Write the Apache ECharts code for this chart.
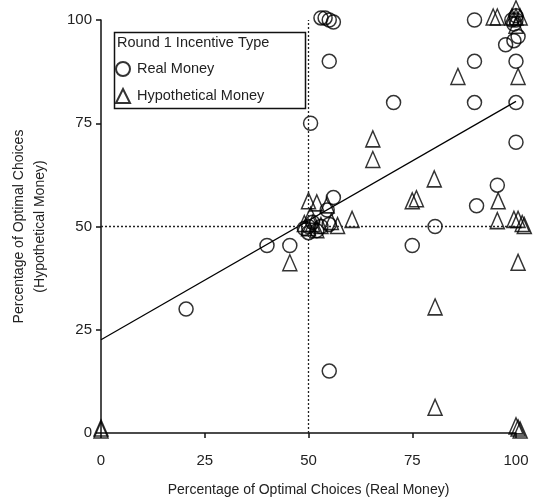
<!DOCTYPE html>
<html>
<head>
<meta charset="utf-8">
<script src="https://cdn.jsdelivr.net/npm/echarts@6/dist/echarts.min.js"></script>
<style>html,body{margin:0;padding:0;background:#fff}#c{width:533px;height:502px}</style>
</head>
<body>
<div id="c"></div>
<script>
// Real Money (circles)
const realX = [20.5, 40, 45.5, 50.5, 53, 54, 55, 56, 55, 55, 54.5, 56, 50, 51, 52, 50, 53, 49, 55, 70.5, 75, 80.5, 90, 90, 90, 90.5, 95.5, 99, 100, 100, 99.5, 97.5, 99.5, 100.5, 100, 100, 100];
const realY = [30, 45.4, 45.4, 75, 100.5, 100.5, 100, 99.5, 90, 15, 54, 57, 50, 51, 49, 48.5, 50, 49.5, 50.5, 80, 45.4, 50, 100, 90, 80, 55, 60, 100, 100, 101, 99, 94, 95, 96, 90, 80, 70.4];
// Hypothetical Money (triangles)
const hypoX = [0, 0, 45.5, 50, 52, 54.5, 49, 50, 51, 52, 53, 55.5, 57, 60.5, 50.5, 65.5, 65.5, 75, 76, 80.3, 80.5, 80.5, 86, 94.5, 95.5, 99, 100, 100, 100, 101, 95.7, 95.5, 99.5, 100.5, 101.5, 102, 100.5, 100.5, 100, 100.5, 101];
const hypoY = [0, 0.5, 40.5, 55.5, 55, 54.5, 50, 49, 50, 48.5, 49.5, 50.5, 49.5, 51, 52, 70.5, 65.5, 55.5, 56, 60.8, 29.8, 5.5, 85.6, 100, 100, 100, 100, 102, 98, 100, 55.5, 50.7, 51, 51, 50, 49.5, 85.6, 40.6, 1, 0.5, 0];
// Regression line endpoints
const fitX = [0, 100];
const fitY = [22.6, 80.3];
const xTicks = [0, 25, 50, 75, 100];
const yTicks = [0, 25, 50, 75, 100];
const legendTitle = 'Round 1 Incentive Type';
const seriesNames = ['Real Money', 'Hypothetical Money'];

const font = 'Liberation Sans, Arial, sans-serif';
const chart = echarts.init(document.getElementById('c'), null, {renderer: 'canvas'});
const zip = (a, b) => a.map((v, i) => [v, b[i]]);
const hollow = {color: 'rgba(255,255,255,0)', borderColor: '#000', borderWidth: 1.5};

chart.setOption({
  animation: false,
  backgroundColor: '#fff',
  grid: {left: 101, right: 17, top: 20, bottom: 66},
  xAxis: {
    type: 'value', min: 0, max: 100, interval: 25,
    name: 'Percentage of Optimal Choices (Real Money)',
    nameLocation: 'middle', nameGap: 50,
    nameTextStyle: {fontFamily: font, fontSize: 14, color: '#222'},
    axisLine: {show: true, lineStyle: {color: '#111', width: 1.5}},
    axisTick: {show: true, length: 5, lineStyle: {color: '#111', width: 1.5}},
    axisLabel: {fontFamily: font, fontSize: 15, color: '#222', margin: 20,
      formatter: v => xTicks.includes(v) ? String(v) : ''},
    splitLine: {show: false}
  },
  yAxis: {
    type: 'value', min: 0, max: 100, interval: 25,
    name: 'Percentage of Optimal Choices\n(Hypothetical Money)',
    nameLocation: 'middle', nameGap: 50,
    nameTextStyle: {fontFamily: font, fontSize: 14, color: '#222', lineHeight: 21},
    axisLine: {show: true, lineStyle: {color: '#111', width: 1.5}},
    axisTick: {show: true, length: 5, lineStyle: {color: '#111', width: 1.5}},
    axisLabel: {fontFamily: font, fontSize: 15, color: '#222', margin: 9,
      formatter: v => yTicks.includes(v) ? String(v) : ''},
    splitLine: {show: false}
  },
  legend: {
    orient: 'vertical', left: 115, top: 61, itemGap: 11,
    itemWidth: 14, itemHeight: 14, padding: 0,
    textStyle: {fontFamily: font, fontSize: 14.5, color: '#222', padding: [0, 0, 0, 2]},
    data: [
      {name: seriesNames[0], icon: 'circle'},
      {name: seriesNames[1], icon: 'triangle'}
    ]
  },
  graphic: [
    {type: 'rect', left: 112, top: 30, shape: {width: 191, height: 76},
      style: {fill: 'none', stroke: '#111', lineWidth: 1.5}, z: 10},
    {type: 'text', left: 117, top: 35, z: 11,
      style: {text: legendTitle, font: '14.5px ' + font, fill: '#222'}}
  ],
  series: [
    {
      type: 'line', data: zip(fitX, fitY), symbol: 'none', silent: true,
      lineStyle: {color: '#000', width: 1.2}, z: 1,
      markLine: {
        silent: true, symbol: 'none', label: {show: false},
        lineStyle: {color: '#222', type: [2, 2], width: 1.3},
        data: [{xAxis: 50}, {yAxis: 50}]
      }
    },
    {
      name: seriesNames[0], type: 'scatter', clip: false,
      symbol: 'circle', symbolSize: 14,
      itemStyle: hollow, data: zip(realX, realY), z: 3
    },
    {
      name: seriesNames[1], type: 'scatter', clip: false,
      symbol: 'triangle', symbolSize: [14, 16], symbolOffset: [0, -3],
      itemStyle: hollow, data: zip(hypoX, hypoY), z: 3
    }
  ]
});
</script>
</body>
</html>
